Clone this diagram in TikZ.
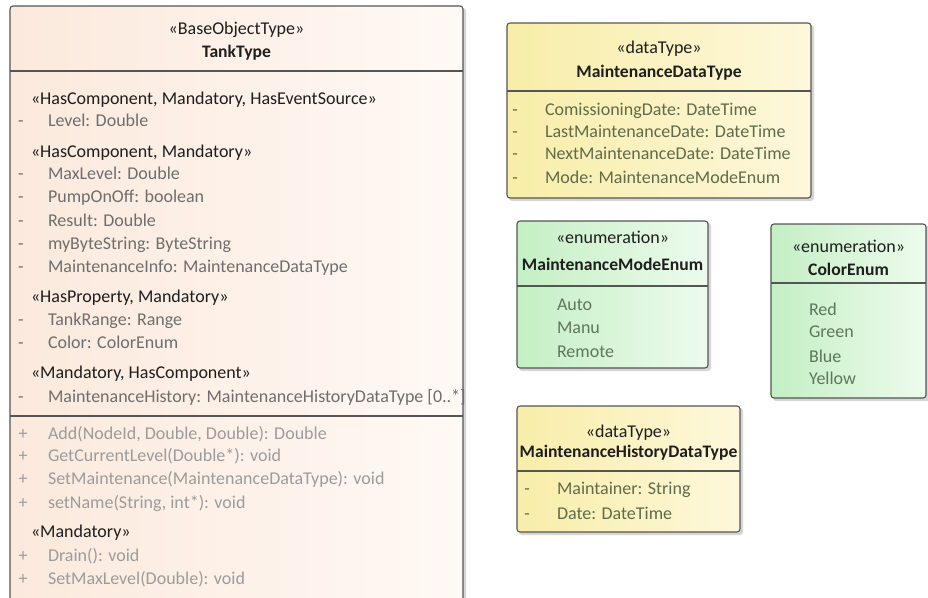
\documentclass[tikz,border=0pt]{standalone}
\usepackage{fontspec}
\setmainfont{Carlito}
\definecolor{bordc}{HTML}{555555}
\definecolor{peachL}{HTML}{FBE9DC}
\definecolor{peachR}{HTML}{FFF9F5}
\definecolor{yelL}{HTML}{F8EDA8}
\definecolor{yelR}{HTML}{FDF8DC}
\definecolor{grnL}{HTML}{C4EFC4}
\definecolor{grnR}{HTML}{EDFBED}
\definecolor{attrgray}{HTML}{6E6E6E}
\definecolor{opgray}{HTML}{9C9C9C}
\definecolor{attrolive}{HTML}{5F6B4A}
\definecolor{attrgreen}{HTML}{5E765E}
\definecolor{dark}{HTML}{1E1E1E}
\definecolor{shad}{HTML}{D6D6D6}
\begin{document}
\begin{tikzpicture}[x=1pt,y=-1pt,
  every node/.style={inner sep=0pt,outer sep=0pt,yshift=-3.5pt,font=\fontsize{18}{21}\selectfont},
  boxline/.style={draw=bordc,line width=1.1pt,rounded corners=3pt},
  sepline/.style={draw=bordc,line width=1.1pt},
  shadowbox/.style={fill=shad,rounded corners=3pt},
  stereo/.style={text=dark,anchor=mid},
  cname/.style={text=dark,anchor=mid,font=\fontsize{17.6}{21}\selectfont\bfseries},
  grouplabel/.style={text=dark,anchor=mid west},
  attr/.style={text=attrgray,anchor=mid west},
  oper/.style={text=opgray,anchor=mid west},
  attrY/.style={text=attrolive,anchor=mid west},
  attrG/.style={text=attrgreen,anchor=mid west},
  vismark/.style={anchor=mid,text=attrgray},
  vismarkop/.style={anchor=mid,text=opgray},
  vismarkY/.style={anchor=mid,text=attrolive}
]
\useasboundingbox (0,0) rectangle (928,597);
\fill[white] (0,0) rectangle (928,597);

% ---------------- TankType ----------------
\fill[shadowbox] (12,8) rectangle (466,610);
\shade[left color=peachL,right color=peachR,rounded corners=3pt] (10,6) rectangle (463,610);
\draw[boxline] (10,6) rectangle (463,610);
\draw[sepline] (10,71) -- (463,71);
\draw[sepline] (10,416) -- (463,416);
\node[stereo] (tst) at (236.5,29) {«BaseObjectType»};
\node[cname] (tnm) at (236.5,52) {TankType};

\node[grouplabel] (g1) at (31,99) {«HasComponent, Mandatory, HasEventSource»};
\node[vismark] (m1) at (21,121) {-};
\node[attr] (a1) at (48,121) {Level: Double};
\node[grouplabel] (g2) at (31,152) {«HasComponent, Mandatory»};
\node[vismark] (m2) at (21,174) {-};
\node[attr] (a2) at (48,174) {MaxLevel: Double};
\node[vismark] (m3) at (21,197) {-};
\node[attr] (a3) at (48,197) {PumpOnOff: boolean};
\node[vismark] (m4) at (21,221) {-};
\node[attr] (a4) at (48,221) {Result: Double};
\node[vismark] (m5) at (21,244) {-};
\node[attr] (a5) at (48,244) {myByteString: ByteString};
\node[vismark] (m6) at (21,267) {-};
\node[attr] (a6) at (48,267) {MaintenanceInfo: MaintenanceDataType};
\node[grouplabel] (g3) at (31,297) {«HasProperty, Mandatory»};
\node[vismark] (m7) at (21,320) {-};
\node[attr] (a7) at (48,320) {TankRange: Range};
\node[vismark] (m8) at (21,343) {-};
\node[attr] (a8) at (48,343) {Color: ColorEnum};
\node[grouplabel] (g4) at (31,373) {«Mandatory, HasComponent»};
\node[vismark] (m9) at (21,397) {-};
\node[attr] (a9) at (48,397) {MaintenanceHistory: MaintenanceHistoryDataType [0..*]};

\node[vismarkop] (p1) at (23,434) {+};
\node[oper] (o1) at (48,434) {Add(NodeId, Double, Double): Double};
\node[vismarkop] (p2) at (23,456) {+};
\node[oper] (o2) at (48,456) {GetCurrentLevel(Double*): void};
\node[vismarkop] (p3) at (23,479) {+};
\node[oper] (o3) at (48,479) {SetMaintenance(MaintenanceDataType): void};
\node[vismarkop] (p4) at (23,503) {+};
\node[oper] (o4) at (48,503) {setName(String, int*): void};
\node[grouplabel] (g5) at (31,532) {«Mandatory»};
\node[vismarkop] (p5) at (23,556) {+};
\node[oper] (o5) at (48,556) {Drain(): void};
\node[vismarkop] (p6) at (23,579) {+};
\node[oper] (o6) at (48,579) {SetMaxLevel(Double): void};

% ---------------- MaintenanceDataType ----------------
\fill[shadowbox] (509,25) rectangle (814,201);
\shade[left color=yelL,right color=yelR,rounded corners=3pt] (507,23) rectangle (811,198);
\draw[boxline] (507,23) rectangle (811,198);
\draw[sepline] (507,91) -- (811,91);
\node[stereo] (dst) at (659,48) {«dataType»};
\node[cname] (dnm) at (659,72) {MaintenanceDataType};
\node[vismarkY] (dm1) at (515,110) {-};
\node[attrY] (d1) at (545,110) {ComissioningDate: DateTime};
\node[vismarkY] (dm2) at (515,132) {-};
\node[attrY] (d2) at (545,132) {LastMaintenanceDate: DateTime};
\node[vismarkY] (dm3) at (515,154) {-};
\node[attrY] (d3) at (545,154) {NextMaintenanceDate: DateTime};
\node[vismarkY] (dm4) at (515,178) {-};
\node[attrY] (d4) at (545,178) {Mode: MaintenanceModeEnum};

% ---------------- MaintenanceModeEnum ----------------
\fill[shadowbox] (519,223) rectangle (711,371);
\shade[left color=grnL,right color=grnR,rounded corners=3pt] (517,221) rectangle (708,368);
\draw[boxline] (517,221) rectangle (708,368);
\draw[sepline] (517,286) -- (708,286);
\node[stereo] (est) at (612.5,238) {«enumeration»};
\node[cname] (enm) at (612.5,265) {MaintenanceModeEnum};
\node[attrG] (e1) at (557,305) {Auto};
\node[attrG] (e2) at (557,328) {Manu};
\node[attrG] (e3) at (557,352) {Remote};

% ---------------- ColorEnum ----------------
\fill[shadowbox] (773,226) rectangle (930,401);
\shade[left color=grnL,right color=grnR,rounded corners=3pt] (771,224) rectangle (926,398);
\draw[boxline] (771,224) rectangle (926,398);
\draw[sepline] (771,283) -- (926,283);
\node[stereo] (cst) at (848.5,247) {«enumeration»};
\node[cname] (cnm) at (848.5,270) {ColorEnum};
\node[attrG] (c1) at (809,310) {Red};
\node[attrG] (c2) at (809,332) {Green};
\node[attrG] (c3) at (809,357) {Blue};
\node[attrG] (c4) at (809,379) {Yellow};

% ---------------- MaintenanceHistoryDataType ----------------
\fill[shadowbox] (519,408) rectangle (743,535);
\shade[left color=yelL,right color=yelR,rounded corners=3pt] (517,406) rectangle (740,532);
\draw[boxline] (517,406) rectangle (740,532);
\draw[sepline] (517,471) -- (740,471);
\node[stereo] (hst) at (628.5,432) {«dataType»};
\node[cname] (hnm) at (628.5,452) {MaintenanceHistoryDataType};
\node[vismarkY] (hm1) at (527,489) {-};
\node[attrY] (h1) at (557,489) {Maintainer: String};
\node[vismarkY] (hm2) at (527,514) {-};
\node[attrY] (h2) at (557,514) {Date: DateTime};
\end{tikzpicture}
\end{document}
